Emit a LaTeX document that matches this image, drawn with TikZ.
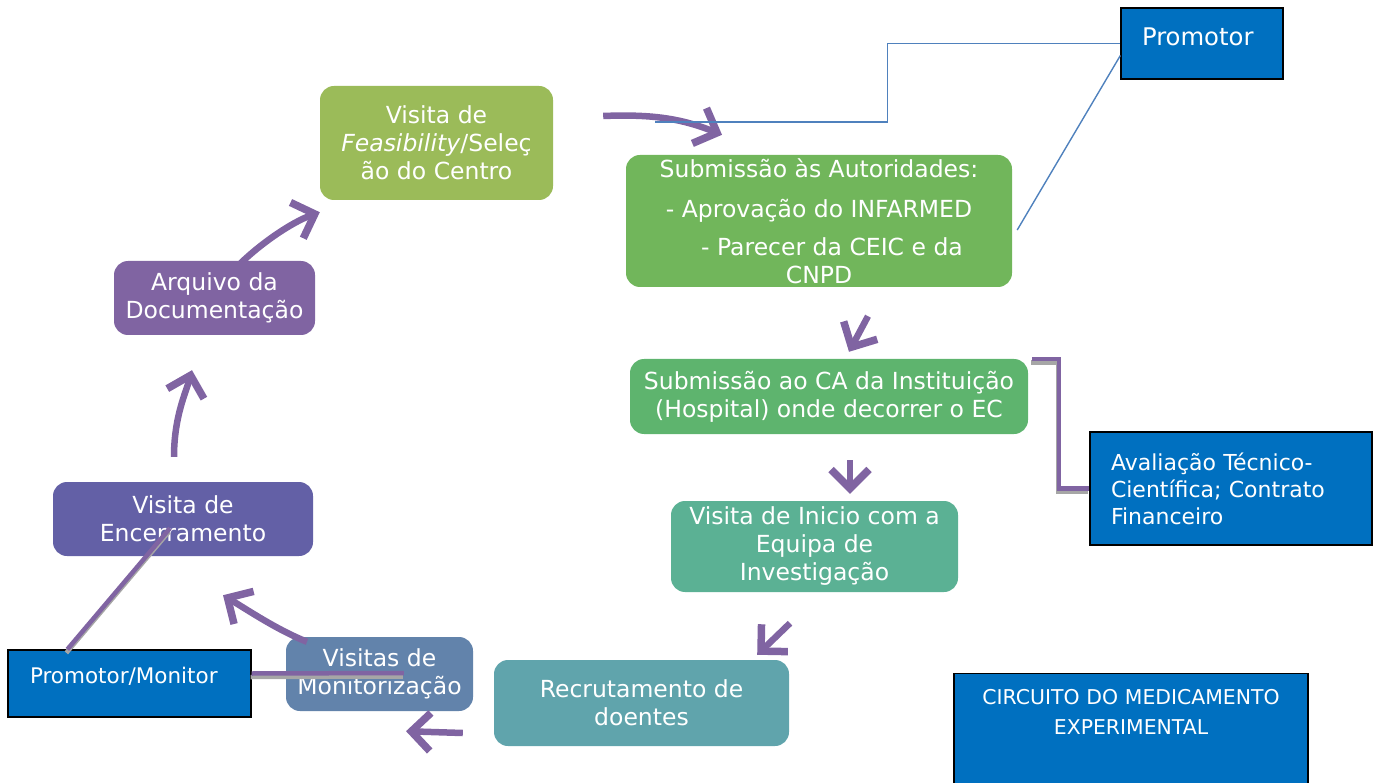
\documentclass[tikz,border=0pt]{standalone}
\usepackage{fontspec}
\setmainfont{DejaVu Sans}
\usetikzlibrary{arrows.meta,calc}

\definecolor{feascol}{HTML}{9BBB59}
\definecolor{autorcol}{HTML}{71B65B}
\definecolor{cacol}{HTML}{5EB46E}
\definecolor{iniciocol}{HTML}{5BB194}
\definecolor{recrutcol}{HTML}{60A4AC}
\definecolor{monitcol}{HTML}{6283AB}
\definecolor{encerrcol}{HTML}{6360A6}
\definecolor{arquivocol}{HTML}{8064A2}
\definecolor{promblue}{HTML}{0070C0}
\definecolor{flowpurple}{HTML}{8064A2}
\definecolor{linkblue}{HTML}{4F81BD}
\definecolor{shadowgray}{HTML}{A6A6A6}

\tikzset{
  stage/.style={rounded corners=14pt, text=white, align=center, inner sep=0pt,
    font=\fontsize{23.5}{28}\selectfont},
  infobox/.style={fill=promblue, draw=black, line width=1.3pt, text=white, inner sep=0pt},
  flow/.style={draw=flowpurple, line width=6.5pt,
    -{Straight Barb[length=19pt,width=38pt,line width=7.5pt]}},
  link/.style={draw=linkblue, line width=1.4pt},
  bracket/.style={draw=flowpurple, line width=4.5pt,
    preaction={draw=shadowgray, line width=4.5pt, transform canvas={shift={(-1pt,-3.5pt)}}}},
}

\begin{document}
\begin{tikzpicture}[x=1pt,y=-1pt]
  \useasboundingbox (0,0) rectangle (1381,783);

  % etapas do circuito
  \node[stage, fill=feascol, minimum width=233pt, minimum height=114pt] (feas) at (436.5,143)
    {Visita de\\\textit{Feasibility}/Seleç\\ão do Centro};
  \node[stage, fill=autorcol, minimum width=386pt, minimum height=132pt] (autor) at (819,221)
    {Submissão às Autoridades:\\[12pt]- Aprovação do INFARMED\\[10pt]\hspace*{26pt}- Parecer da CEIC e da\\CNPD};
  \node[stage, fill=cacol, minimum width=398pt, minimum height=75pt] (ca) at (829,396.5)
    {Submissão ao CA da Instituição\\(Hospital) onde decorrer o EC};
  \node[stage, fill=iniciocol, minimum width=287pt, minimum height=91pt] (inicio) at (814.5,546.5)
    {Visita de Inicio com a\\Equipa de\\Investigação};
  \node[stage, fill=recrutcol, minimum width=295pt, minimum height=86pt] (recrut) at (641.5,703)
    {Recrutamento de\\doentes};
  \node[stage, fill=monitcol, minimum width=187pt, minimum height=74pt] (monit) at (379.5,674)
    {Visitas de\\Monitorização};
  \node[stage, fill=encerrcol, minimum width=260pt, minimum height=74pt] (encerr) at (183,519)
    {Visita de\\Encerramento};
  \node[stage, fill=arquivocol, minimum width=201pt, minimum height=74pt] (arquivo) at (214.5,298)
    {Arquivo da\\Documentação};

  % caixas azuis
  \node[infobox, minimum width=162pt, minimum height=71pt, text width=120pt, align=left,
    text height=17pt, text depth=13pt, font=\fontsize{24.3}{28}\selectfont] (prom) at (1202,43.5) {Promotor};
  \node[infobox, minimum width=282pt, minimum height=113pt, text width=240pt, align=left,
    font=\fontsize{22}{27}\selectfont] (aval) at (1231,488.5)
    {Avaliação Técnico-\\Científica; Contrato\\Financeiro};
  \node[infobox, minimum width=243pt, minimum height=67pt, text width=199pt, align=left,
    text height=15pt, text depth=15pt, font=\fontsize{21.5}{26}\selectfont] (pm) at (129.5,683.5) {Promotor/Monitor};
  \node[infobox, anchor=north, minimum width=354pt, text width=330pt, align=center, inner ysep=16pt,
    font=\fontsize{20.4}{30}\selectfont] (circ) at (1131,673)
    {CIRCUITO DO MEDICAMENTO\\EXPERIMENTAL\\[70pt]\strut};

  % setas do circuito
  \draw[flow] ([shift={(50,-27)}]feas.east) .. controls +(50,-2) and +(-40,-16) .. ([shift={(-97,-20)}]autor.north);
  \draw[flow] ([shift={(49,29)}]autor.south) -- ([shift={(20,-7)}]ca.north);
  \draw[flow] ([shift={(21,26)}]ca.south) -- ([shift={(35.5,-7)}]inicio.north);
  \draw[flow] ([shift={(-24.5,31)}]inicio.south) -- ([shift={(-32,-5)}]recrut.north east);
  \draw[flow] ([shift={(-31,30)}]recrut.west) -- ([shift={(26.5,20)}]monit.south);
  \draw[flow] ([shift={(-72.5,5)}]monit.north) .. controls +(-30,-12) and +(25,15) .. ([shift={(40,39)}]encerr.south);
  \draw[flow] ([shift={(-9,-25)}]encerr.north) .. controls +(0,-40) and +(-6,22) .. ([shift={(-22.5,35)}]arquivo.south);
  \draw[flow] ([shift={(23.5,5)}]arquivo.north) .. controls +(22,-22) and +(-28,10) .. ([shift={(0,12)}]feas.south west);

  % ligacoes
  \coordinate (linkstart) at ([shift={(102,-21)}]feas.east);
  \draw[link] (linkstart) -| ($(linkstart)!.5!(prom.west)$) |- (prom.west);
  \draw[link] ([shift={(5,9)}]autor.east) -- ([yshift=-12pt]prom.west);
  \draw[bracket] ([xshift=4pt]ca.north east) -| ($(ca.north east)!.5!(aval.west)$) |- (aval.west);
  \draw[bracket] ([xshift=60pt]pm.north west) -- ([shift={(-13,-28)}]encerr.south);
  \draw[bracket] ([yshift=10pt]pm.east) -- ([shift={(118,-1)}]monit.west);
\end{tikzpicture}
\end{document}
